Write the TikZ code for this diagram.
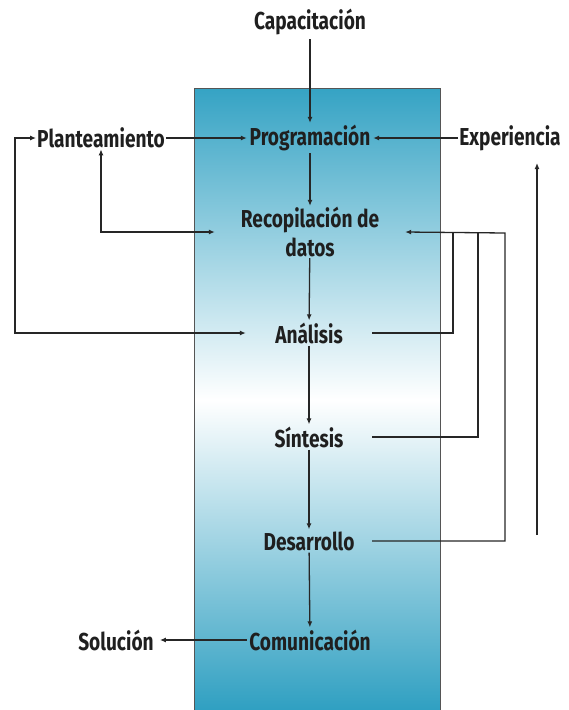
\documentclass[tikz,border=0pt]{standalone}
\usepackage{fontspec}
\setmainfont{Fira Sans}[FakeStretch=0.78]
\usetikzlibrary{arrows.meta,positioning}
\definecolor{tealtop}{HTML}{35A3C4}
\definecolor{tealbot}{HTML}{2E9FC1}
\definecolor{borde}{HTML}{555555}
\tikzset{
  fase/.style={inner xsep=0pt,inner ysep=2pt,minimum width=126pt,align=center,
    font=\fontsize{24.5}{29}\selectfont\bfseries,text=black!88},
  extremo/.style={inner sep=1pt,font=\fontsize{24.5}{29}\selectfont\bfseries,text=black!88},
  caja/.style={draw=borde,line width=0.9pt,top color=tealtop,bottom color=tealbot,middle color=white},
  flujo/.style={-{Latex[length=6pt,width=5pt]},line width=1.3pt,draw=black!85},
  doble/.style={{Latex[length=6pt,width=5pt]}-{Latex[length=6pt,width=5pt]},line width=1.3pt,draw=black!85},
  linea/.style={line width=1.3pt,draw=black!85}
}

\begin{document}
\begin{tikzpicture}[x=1pt,y=-1pt]
  \useasboundingbox (0,0) rectangle (569,710);
  \draw[caja] (194,88) rectangle (440,712);
  % fases dentro de la caja
  \node[extremo,inner ysep=4pt] (capac) at (310,22) {Capacitación};
  \node[fase] (prog) at (310,138) {Programación};
  \node[fase,minimum width=190pt,inner ysep=1pt] (recop) at (310,232) {Recopilación de\\datos};
  \node[fase] (anal) at (309,333) {Análisis};
  \node[fase] (sint) at (309,437) {Síntesis};
  \node[fase] (desa) at (309,541) {Desarrollo};
  \node[fase] (comun) at (310,640) {Comunicación};
  % entradas y salidas
  \node[extremo] (plant) at (101,138) {Planteamiento};
  \node[extremo] (exper) at (510,138) {Experiencia};
  \node[extremo,inner xsep=6pt] (sol) at (116,640) {Solución};
  \coordinate (izq) at (15,333);
  \coordinate (r1) at (453,233);
  \coordinate (r2) at (478,233);
  \coordinate (r3) at (505,233);
  \coordinate (expbase) at (537,535);
  \coordinate (exptop) at (537,163);
  % flujo principal
  \draw[flujo] (capac) -- (prog);
  \draw[flujo] (prog) -- (recop);
  \draw[flujo] (recop) -- (anal);
  \draw[flujo] (anal) -- (sint);
  \draw[flujo] (sint) -- (desa);
  \draw[flujo] (desa) -- (comun);
  \draw[flujo] (comun.west) -- (sol.east);
  \draw[flujo] (plant) -- (prog);
  \draw[flujo] (exper) -- (prog);
  \draw[doble] (plant.south) |- (recop.west);
  \draw[doble] (plant.west) -| (izq) -- (anal.west);
  % retornos a la recopilacion
  \draw[linea] (anal.east) -| (r1);
  \draw[linea] (sint.east) -| (r2);
  \draw[flujo] (desa.east) -| (r3) -- (recop.east);
  \draw[flujo] (expbase) -- (exptop);
\end{tikzpicture}
\end{document}
